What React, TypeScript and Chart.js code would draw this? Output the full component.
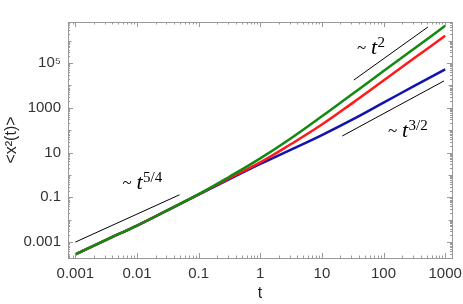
import React, { useEffect, useRef } from "react";
import { Chart, registerables } from "chart.js";

Chart.register(...registerables);

// time samples (half-decade steps)
const tValues = [0.001, 0.00316, 0.01, 0.0316, 0.1, 0.316, 1, 3.16, 10, 31.6, 100, 316, 1000];
// <x^2(t)> for the three curves
const greenValues = [0.000282, 0.00126, 0.0055, 0.0269, 0.138, 0.832, 5.5, 43.7, 417, 4270, 43600, 447000, 4570000];
const redValues = [0.000282, 0.00126, 0.0055, 0.0269, 0.135, 0.724, 3.63, 24.0, 178, 1660, 16600, 166000, 1660000];
const blueValues = [0.000282, 0.00126, 0.0055, 0.0269, 0.132, 0.646, 3.09, 13.5, 60.3, 302, 1700, 9550, 52500];

// guide lines
const guide54T = [0.001, 0.049];
const guide54Y = [0.001, 0.13];
const guide2T = [33, 525];
const guide2Y = [17400, 4070000];
const guide32T = [21.4, 955];
const guide32Y = [55, 15800];

// ticks
const xTickValues = [0.001, 0.01, 0.1, 1, 10, 100, 1000];
const xTickLabels = ["0.001", "0.01", "0.1", "1", "10", "100", "1000"];
const yTickValues = [0.001, 0.1, 10, 1000, 100000];
const yTickLabels = ["0.001", "0.1", "10", "1000", "10\u2075"];

const X_MIN = 0.00076;
const X_MAX = 1290;
const Y_MIN = 0.000195;
const Y_MAX = 6800000;

const pts = (xs: number[], ys: number[]) => xs.map((x, i) => ({ x, y: ys[i] }));

const SANS = "'Liberation Sans', Arial, sans-serif";
const TICK_FONT = { family: SANS, size: 15 };
const TICK_COLOR = "#333";
const FRAME_COLOR = "#999";

function logTicks(min: number, max: number) {
  const out: { v: number; kind: number }[] = [];
  for (let k = -5; k <= 7; k++) {
    for (let m = 1; m <= 9; m++) {
      const v = m * Math.pow(10, k);
      if (v >= min && v <= max) out.push({ v, kind: m === 1 ? 1 : 0 });
    }
  }
  return out;
}

const frameTicksPlugin = {
  id: "frameTicks",
  afterDraw(chart: any) {
    const { ctx, chartArea } = chart;
    const { left, right, top, bottom } = chartArea;
    const xs = chart.scales.x;
    const ys = chart.scales.y;
    ctx.save();
    ctx.strokeStyle = FRAME_COLOR;
    ctx.lineWidth = 1;
    ctx.beginPath();
    for (const t of logTicks(X_MIN, X_MAX)) {
      const px = Math.round(xs.getPixelForValue(t.v)) + 0.5;
      const len = t.kind ? 5 : 2.5;
      ctx.moveTo(px, bottom);
      ctx.lineTo(px, bottom - len);
      ctx.moveTo(px, top);
      ctx.lineTo(px, top + len);
    }
    for (const t of logTicks(Y_MIN, Y_MAX)) {
      const py = Math.round(ys.getPixelForValue(t.v)) + 0.5;
      const isMajor = yTickValues.some((v) => Math.abs(Math.log10(v) - Math.log10(t.v)) < 1e-6);
      const len = isMajor ? 5 : t.kind ? 3.5 : 2;
      ctx.moveTo(left, py);
      ctx.lineTo(left + len, py);
      ctx.moveTo(right, py);
      ctx.lineTo(right - len, py);
    }
    ctx.stroke();

    // power-law annotations
    const notes = [
      { t: 0.0058, v: 0.23, sup: "5/4" },
      { t: 37, v: 250000, sup: "2" },
      { t: 118, v: 50, sup: "3/2" },
    ];
    ctx.fillStyle = "#000";
    ctx.textBaseline = "alphabetic";
    ctx.textAlign = "left";
    for (const n of notes) {
      const x0 = xs.getPixelForValue(n.t);
      const y0 = ys.getPixelForValue(n.v);
      ctx.font = "17px 'Liberation Serif', serif";
      ctx.fillText("~", x0, y0 - 1);
      ctx.font = "italic 22px 'Liberation Serif', serif";
      const tx = x0 + 14;
      ctx.fillText("t", tx, y0);
      const tw = ctx.measureText("t").width;
      ctx.font = "15px 'Liberation Serif', serif";
      ctx.fillText(n.sup, tx + tw + 0.5, y0 - 7);
    }
    ctx.restore();
  },
};

export default function App() {
  const ref = useRef<HTMLCanvasElement | null>(null);
  useEffect(() => {
    if (!ref.current) return;
    const line = (data: any, color: string, width: number, tension: number) => ({
      data,
      borderColor: color,
      backgroundColor: color,
      borderWidth: width,
      pointRadius: 0,
      showLine: true,
      fill: false,
      tension,
    });
    const chart = new Chart(ref.current, {
      type: "scatter",
      data: {
        datasets: [
          line(pts(tValues, greenValues), "#128a12", 2.5, 0.4),
          line(pts(tValues, redValues), "#ff1a1a", 2.5, 0.4),
          line(pts(tValues, blueValues), "#1212b0", 2.5, 0.4),
          line(pts(guide54T, guide54Y), "#000", 1, 0),
          line(pts(guide2T, guide2Y), "#000", 1, 0),
          line(pts(guide32T, guide32Y), "#000", 1, 0),
        ],
      },
      options: {
        responsive: false,
        animation: false,
        events: [],
        layout: { padding: 0 },
        plugins: { legend: { display: false }, tooltip: { enabled: false } },
        scales: {
          x: {
            type: "logarithmic",
            position: "bottom",
            min: X_MIN,
            max: X_MAX,
            grid: { display: false, drawTicks: false },
            border: { display: true, color: FRAME_COLOR, width: 1 },
            afterBuildTicks: (s: any) => {
              s.ticks = xTickValues.map((value) => ({ value }));
            },
            ticks: {
              autoSkip: false,
              maxRotation: 0,
              padding: 7,
              font: TICK_FONT,
              color: TICK_COLOR,
              callback: (v: any) => {
                const i = xTickValues.findIndex((x) => Math.abs(Math.log10(x) - Math.log10(v)) < 1e-6);
                return i >= 0 ? xTickLabels[i] : "";
              },
            },
            title: {
              display: true,
              text: "t",
              font: { family: SANS, size: 16 },
              color: "#222",
              padding: { top: 0, bottom: 1 },
            },
            afterFit: (s: any) => {
              s.height = 46;
              s.paddingLeft = 0;
              s.paddingRight = 0;
            },
          },
          x2: {
            type: "logarithmic",
            position: "top",
            min: X_MIN,
            max: X_MAX,
            grid: { display: false, drawTicks: false },
            border: { display: true, color: FRAME_COLOR, width: 1 },
            ticks: { display: false },
            afterFit: (s: any) => {
              s.height = 22;
              s.paddingLeft = 0;
              s.paddingRight = 0;
            },
          },
          y: {
            type: "logarithmic",
            position: "left",
            min: Y_MIN,
            max: Y_MAX,
            grid: { display: false, drawTicks: false },
            border: { display: true, color: FRAME_COLOR, width: 1 },
            afterBuildTicks: (s: any) => {
              s.ticks = yTickValues.map((value) => ({ value }));
            },
            ticks: {
              autoSkip: false,
              padding: 7,
              font: TICK_FONT,
              color: TICK_COLOR,
              callback: (v: any) => {
                const i = yTickValues.findIndex((x) => Math.abs(Math.log10(x) - Math.log10(v)) < 1e-6);
                return i >= 0 ? yTickLabels[i] : "";
              },
            },
            title: {
              display: true,
              text: "<x\u00b2(t)>",
              font: { family: SANS, size: 16 },
              color: "#222",
              padding: { top: 2, bottom: 0 },
            },
            afterFit: (s: any) => {
              s.width = 68;
              s.paddingTop = 0;
              s.paddingBottom = 0;
            },
          },
          y2: {
            type: "logarithmic",
            position: "right",
            min: Y_MIN,
            max: Y_MAX,
            grid: { display: false, drawTicks: false },
            border: { display: true, color: FRAME_COLOR, width: 1 },
            ticks: { display: false },
            afterFit: (s: any) => {
              s.width = 11;
              s.paddingTop = 0;
              s.paddingBottom = 0;
            },
          },
        },
      },
      plugins: [frameTicksPlugin],
    });
    return () => chart.destroy();
  }, []);
  return (
    <div style={{ position: "fixed", left: 0, top: 0, width: 463, height: 304, background: "#fff" }}>
      <canvas ref={ref} width={463} height={304} style={{ display: "block" }} />
    </div>
  );
}
